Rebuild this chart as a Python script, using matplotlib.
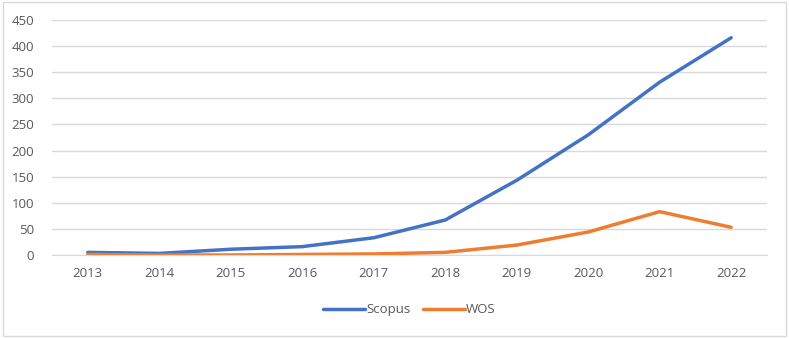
import matplotlib.pyplot as plt
from matplotlib.patches import Rectangle

plt.rcParams['font.family'] = ['Open Sans', 'DejaVu Sans']

years = ['2013', '2014', '2015', '2016', '2017', '2018', '2019', '2020', '2021', '2022']
scopus = [5, 3, 11, 16, 33, 67, 143, 230, 331, 416]
wos = [1, 0, 0, 1, 2, 5, 19, 44, 83, 53]

fig = plt.figure(figsize=(7.89, 3.38), dpi=100)
ax = fig.add_axes([0.066, 0.2456, 0.906, 0.6952])

x = range(len(years))
ax.plot(x, scopus, color='#4472C4', lw=2.5, solid_capstyle='round', label='Scopus')
ax.plot(x, wos, color='#ED7D31', lw=2.5, solid_capstyle='round', label='WOS')

ax.set_xlim(-0.5, len(years) - 0.5)
ax.set_ylim(0, 450)
ax.set_yticks(range(0, 451, 50))
ax.set_xticks(list(x))
ax.set_xticklabels(years)
ax.grid(axis='y', color='#D9D9D9', lw=1)
ax.set_axisbelow(True)
for s in ['top', 'right', 'left']:
    ax.spines[s].set_visible(False)
ax.spines['bottom'].set_color('#D9D9D9')
ax.tick_params(length=0, colors='#595959', labelsize=9.5)
ax.tick_params(axis='x', pad=9)
ax.tick_params(axis='y', pad=13)

ax.legend(loc='center', bbox_to_anchor=(0.5, -0.234), ncol=2, frameon=False,
          fontsize=9.5, labelcolor='#595959', handlelength=3.2, handletextpad=0.1,
          columnspacing=0.9)

fig.patches.append(Rectangle((0.004, 0.006), 0.992, 0.988, transform=fig.transFigure,
                             fill=False, edgecolor='#D9D9D9', lw=1))

fig.savefig('out.png', dpi=100)
